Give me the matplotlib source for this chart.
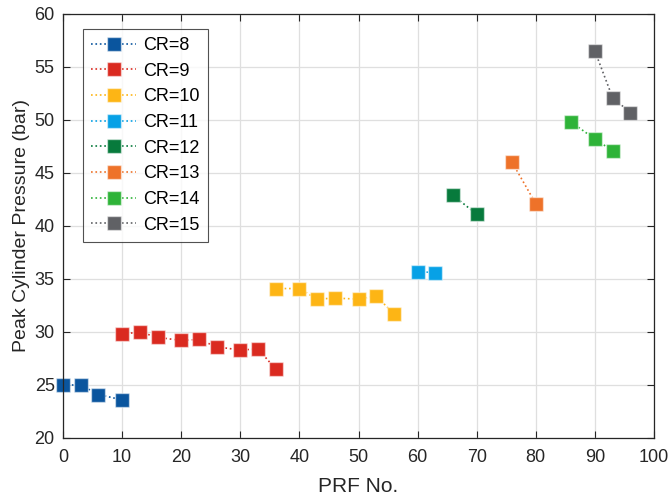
import matplotlib
matplotlib.use("Agg")
import matplotlib.pyplot as plt

plt.rcParams['font.family'] = ['Liberation Sans', 'DejaVu Sans']

labels = ["CR=8", "CR=9", "CR=10", "CR=11", "CR=12", "CR=13", "CR=14", "CR=15"]
colors = ["#0A559E", "#DA2A20", "#FDB515", "#07A1E6", "#077A3C", "#EE7229", "#2EB338", "#606165"]

prf = [
    [0, 3, 6, 10],
    [10, 13, 16, 20, 23, 26, 30, 33, 36],
    [36, 40, 43, 46, 50, 53, 56],
    [60, 63],
    [66, 70],
    [76, 80],
    [86, 90, 93],
    [90, 93, 96],
]
pressure = [
    [25.0, 25.0, 24.1, 23.6],
    [29.8, 30.0, 29.5, 29.2, 29.3, 28.6, 28.3, 28.4, 26.5],
    [34.1, 34.1, 33.1, 33.2, 33.1, 33.4, 31.7],
    [35.7, 35.6],
    [42.9, 41.1],
    [46.0, 42.1],
    [49.8, 48.2, 47.1],
    [56.5, 52.1, 50.7],
]

fig = plt.figure(figsize=(6.7, 5.0), dpi=100)
ax = fig.add_axes([63 / 670, 62 / 500, 591 / 670, 424 / 500])

for x, y, c, lab in zip(prf, pressure, colors, labels):
    ax.plot(x, y, linestyle=':', linewidth=1.2, color=c, marker='s', markersize=10,
            markerfacecolor=c, markeredgecolor=(1, 1, 1, 0.5), markeredgewidth=1.0,
            label=lab, clip_on=False)

ax.set_xlim(0, 100)
ax.set_ylim(20, 60)
ax.set_xticks(range(0, 101, 10))
ax.set_yticks(range(20, 61, 5))
ax.grid(True, color='#dfdfdf', linewidth=0.9)
ax.set_axisbelow(True)
ax.tick_params(direction='in', length=5, labelsize=13, colors='#262626',
               top=True, right=True)
ax.tick_params(axis='x', pad=8)
ax.tick_params(axis='y', pad=6)
for s in ax.spines.values():
    s.set_color('#262626')
    s.set_linewidth(0.9)
ax.set_xlabel('PRF No.', fontsize=15, color='#262626', labelpad=8)
ax.set_ylabel('Peak Cylinder Pressure (bar)', fontsize=14, color='#262626', labelpad=3)

leg = ax.legend(loc='upper left', bbox_to_anchor=(0.034, 0.965), borderaxespad=0,
                fontsize=13, frameon=True, fancybox=False, edgecolor='#262626',
                handlelength=2.5, handletextpad=0.4, labelspacing=0.48, borderpad=0.45)
leg.get_frame().set_linewidth(0.8)

fig.savefig('out.png', dpi=100)
